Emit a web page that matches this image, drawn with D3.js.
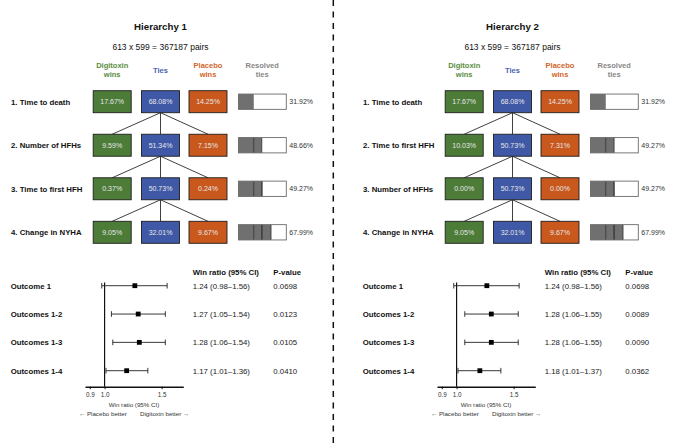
<!DOCTYPE html>
<html>
<head>
<meta charset="utf-8">
<script src="https://cdn.jsdelivr.net/npm/d3@7"></script>
<style>
  html, body { margin: 0; padding: 0; background: #fff; }
  svg { display: block; font-family: "Liberation Sans", Arial, Helvetica, sans-serif; }
</style>
</head>
<body>
<svg id="chart" width="680" height="443"></svg>
<script>
// ---------------- DATA ----------------
const panelTitles = ["Hierarchy 1", "Hierarchy 2"];
const pairsText = "613 x 599 = 367187 pairs";
const columnHeaders = [["Digitoxin", "wins"], ["Ties"], ["Placebo", "wins"], ["Resolved", "ties"]];

const outcomes1 = ["1. Time to death", "2. Number of HFHs", "3. Time to first HFH", "4. Change in NYHA"];
const digWins1 = [17.67, 9.59, 0.37, 9.05];
const ties1 = [68.08, 51.34, 50.73, 32.01];
const plaWins1 = [14.25, 7.15, 0.24, 9.67];
const resolved1 = [31.92, 48.66, 49.27, 67.99];

const outcomes2 = ["1. Time to death", "2. Time to first HFH", "3. Number of HFHs", "4. Change in NYHA"];
const digWins2 = [17.67, 10.03, 0.00, 9.05];
const ties2 = [68.08, 50.73, 50.73, 32.01];
const plaWins2 = [14.25, 7.31, 0.00, 9.67];
const resolved2 = [31.92, 49.27, 49.27, 67.99];

const forestLabels = ["Outcome 1", "Outcomes 1-2", "Outcomes 1-3", "Outcomes 1-4"];
const wr1 = [1.24, 1.27, 1.28, 1.17];
const lo1 = [0.98, 1.05, 1.06, 1.01];
const hi1 = [1.56, 1.54, 1.54, 1.36];
const p1 = ["0.0698", "0.0123", "0.0105", "0.0410"];

const wr2 = [1.24, 1.28, 1.28, 1.18];
const lo2 = [0.98, 1.06, 1.06, 1.01];
const hi2 = [1.56, 1.55, 1.55, 1.37];
const p2 = ["0.0698", "0.0089", "0.0090", "0.0362"];

const tickValues = [0.9, 1.0, 1.5];
const axisDomain = [0.87, 1.75];

// ---------------- STYLE ----------------
const C = {
  green: "#4d7c39", blue: "#3f59a7", orange: "#c9581d",
  greenT: "#5a8d3f", blueT: "#4a63b4", orangeT: "#d2642a", grayT: "#888888",
  boxText: "#e6e6e6", resolved: "#707070"
};

const svg = d3.select("#chart");
svg.append("rect").attr("width", 680).attr("height", 443).attr("fill", "#fff");

// dashed divider
svg.append("line").attr("x1", 333.3).attr("x2", 333.3).attr("y1", 0).attr("y2", 443)
  .attr("stroke", "#111").attr("stroke-width", 1.5).attr("stroke-dasharray", "6,5.5");

const panels = [
  { dx: 0, title: panelTitles[0], outcomes: outcomes1, dig: digWins1, ties: ties1, pla: plaWins1, res: resolved1,
    wr: wr1, lo: lo1, hi: hi1, p: p1 },
  { dx: 352, title: panelTitles[1], outcomes: outcomes2, dig: digWins2, ties: ties2, pla: plaWins2, res: resolved2,
    wr: wr2, lo: lo2, hi: hi2, p: p2 }
];

const fmtPct = v => v.toFixed(2) + "%";
const fmtCI = (w, l, h) => w.toFixed(2) + " (" + l.toFixed(2) + "\u2013" + h.toFixed(2) + ")";

panels.forEach(P => {
  const g = svg.append("g").attr("transform", `translate(${P.dx},0)`);

  // scales
  const y = d3.scalePoint().domain(d3.range(4)).range([101.7, 232.3]);
  const xCol = d3.scalePoint().domain(["dig", "ties", "pla", "res"]).range([112.2, 262.2]);
  // adjust resolved column to custom center by a separate scale
  const colX = { dig: 112.2, ties: 160.5, pla: 208, res: 262.2 };
  const boxW = 38, boxH = 22;
  const resX = d3.scaleLinear().domain([0, 100]).range([238.5, 286.3]);
  const resH = 15.3;

  // titles
  g.append("text").attr("x", 160.5).attr("y", 30.3).attr("text-anchor", "middle")
    .attr("font-weight", "bold").attr("font-size", "9.7px").attr("fill", "#111").text(P.title);
  g.append("text").attr("x", 160.5).attr("y", 49.6).attr("text-anchor", "middle")
    .attr("font-size", "8.5px").attr("fill", "#111").text(pairsText);

  // column headers
  const hdrColors = [C.greenT, C.blueT, C.orangeT, C.grayT];
  const hdrKeys = ["dig", "ties", "pla", "res"];
  columnHeaders.forEach((lines, i) => {
    const t = g.append("text").attr("text-anchor", "middle").attr("font-weight", "bold")
      .attr("font-size", "7.5px").attr("fill", hdrColors[i]);
    if (lines.length === 1) {
      t.append("tspan").attr("x", colX[hdrKeys[i]]).attr("y", 72.6).text(lines[0]);
    } else {
      lines.forEach((s, j) => t.append("tspan").attr("x", colX[hdrKeys[i]]).attr("y", 68 + j * 8.6).text(s));
    }
  });

  // connector lines from ties box to next row
  for (let r = 0; r < 3; r++) {
    ["dig", "ties", "pla"].forEach(k => {
      g.append("line")
        .attr("x1", colX.ties).attr("y1", y(r) + boxH / 2)
        .attr("x2", colX[k]).attr("y2", y(r + 1) - boxH / 2)
        .attr("stroke", "#2a2a2a").attr("stroke-width", 0.9);
    });
  }

  // rows
  P.outcomes.forEach((name, r) => {
    g.append("text").attr("x", 11).attr("y", y(r) + 2.8).attr("font-weight", "bold")
      .attr("font-size", "7.8px").attr("fill", "#111").text(name);

    const cells = [["dig", P.dig[r], C.green], ["ties", P.ties[r], C.blue], ["pla", P.pla[r], C.orange]];
    cells.forEach(([k, v, col]) => {
      g.append("rect").attr("x", colX[k] - boxW / 2).attr("y", y(r) - boxH / 2)
        .attr("width", boxW).attr("height", boxH).attr("fill", col)
        .attr("stroke", "#1e1e1e").attr("stroke-width", 0.9);
      g.append("text").attr("x", colX[k]).attr("y", y(r) + 2.5).attr("text-anchor", "middle")
        .attr("font-size", "7px").attr("fill", C.boxText).text(fmtPct(v));
    });

    // resolved ties bar
    const top = y(r) - resH / 2;
    g.append("rect").attr("x", resX(0)).attr("y", top).attr("width", resX(100) - resX(0))
      .attr("height", resH).attr("fill", "#fff");
    g.append("rect").attr("x", resX(0)).attr("y", top).attr("width", resX(P.res[r]) - resX(0))
      .attr("height", resH).attr("fill", C.resolved);
    for (let j = 0; j < r; j++) {
      g.append("line").attr("x1", resX(P.res[j])).attr("x2", resX(P.res[j]))
        .attr("y1", top).attr("y2", top + resH).attr("stroke", "#3a3a3a").attr("stroke-width", 0.9);
    }
    if (r > 0) {
      g.append("line").attr("x1", resX(P.res[r])).attr("x2", resX(P.res[r]))
        .attr("y1", top).attr("y2", top + resH).attr("stroke", "#3a3a3a").attr("stroke-width", 0.9);
    }
    g.append("rect").attr("x", resX(0)).attr("y", top).attr("width", resX(100) - resX(0))
      .attr("height", resH).attr("fill", "none").attr("stroke", "#6a6a6a").attr("stroke-width", 0.9);
    g.append("text").attr("x", resX(100) + 3).attr("y", y(r) + 2.5)
      .attr("font-size", "7px").attr("fill", "#333").text(fmtPct(P.res[r]));
  });

  // ---------------- forest plot ----------------
  const fy = d3.scalePoint().domain(d3.range(4)).range([285.7, 370.7]);
  const fx = d3.scaleLog().domain(axisDomain).range([85, 183.3]);
  const axisY = 386.7;

  g.append("text").attr("x", 192.7).attr("y", 275).attr("font-weight", "bold")
    .attr("font-size", "7.8px").attr("fill", "#111").text("Win ratio (95% CI)");
  g.append("text").attr("x", 273.3).attr("y", 275).attr("font-weight", "bold")
    .attr("font-size", "7.8px").attr("fill", "#111").text("P-value");

  // reference line
  g.append("line").attr("x1", fx(1)).attr("x2", fx(1)).attr("y1", 282.5).attr("y2", axisY)
    .attr("stroke", "#111").attr("stroke-width", 1.2);

  // axis
  const axis = d3.axisBottom(fx).tickValues(tickValues).tickFormat(d3.format(".1f"))
    .tickSize(2.5).tickPadding(3.5).tickSizeOuter(0);
  const ag = g.append("g").attr("transform", `translate(0,${axisY})`).call(axis);
  ag.select(".domain").attr("stroke", "#111").attr("stroke-width", 1.4);
  ag.selectAll(".tick line").attr("stroke", "#111").attr("stroke-width", 1);
  ag.selectAll(".tick text").attr("font-size", "6.3px").attr("fill", "#333")
    .attr("font-family", "'Liberation Sans', Arial, sans-serif");

  g.append("text").attr("x", 134).attr("y", 407.3).attr("text-anchor", "middle")
    .attr("font-size", "6.2px").attr("fill", "#333").text("Win ratio (95% CI)");
  g.append("text").attr("x", 79).attr("y", 416.3)
    .attr("font-size", "6.2px").attr("fill", "#333").text("\u2190 Placebo better");
  g.append("text").attr("x", 140).attr("y", 416.3)
    .attr("font-size", "6.2px").attr("fill", "#333").text("Digitoxin better \u2192");

  forestLabels.forEach((lab, r) => {
    const cy = fy(r);
    g.append("text").attr("x", 10.7).attr("y", cy + 2.8).attr("font-weight", "bold")
      .attr("font-size", "7.8px").attr("fill", "#111").text(lab);
    g.append("line").attr("x1", fx(P.lo[r])).attr("x2", fx(P.hi[r])).attr("y1", cy).attr("y2", cy)
      .attr("stroke", "#222").attr("stroke-width", 0.9);
    [P.lo[r], P.hi[r]].forEach(v => {
      g.append("line").attr("x1", fx(v)).attr("x2", fx(v)).attr("y1", cy - 2.8).attr("y2", cy + 2.8)
        .attr("stroke", "#222").attr("stroke-width", 0.9);
    });
    g.append("rect").attr("x", fx(P.wr[r]) - 2.4).attr("y", cy - 2.4).attr("width", 4.8).attr("height", 4.8)
      .attr("fill", "#000");
    g.append("text").attr("x", 192.7).attr("y", cy + 2.8).attr("font-size", "7.8px").attr("fill", "#222")
      .text(fmtCI(P.wr[r], P.lo[r], P.hi[r]));
    g.append("text").attr("x", 273.3).attr("y", cy + 2.8).attr("font-size", "7.8px").attr("fill", "#222")
      .text(P.p[r]);
  });
});
</script>
</body>
</html>
